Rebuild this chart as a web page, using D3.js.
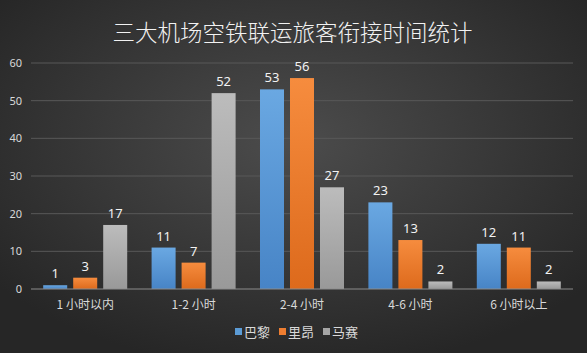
<!DOCTYPE html>
<html>
<head>
<meta charset="utf-8">
<script src="https://cdn.jsdelivr.net/npm/d3@7/dist/d3.min.js"></script>
<style>
  html, body { margin: 0; padding: 0; background: #333; }
  svg { display: block; font-family: "Noto Sans CJK SC", "Noto Sans", sans-serif; }
</style>
</head>
<body>
<svg id="chart"></svg>
<script>
var categories = ["1 小时以内", "1-2 小时", "2-4 小时", "4-6 小时", "6 小时以上"];
var seriesNames = ["巴黎", "里昂", "马赛"];
var paris = [1, 11, 53, 23, 12];
var lyon = [3, 7, 56, 13, 11];
var marseille = [17, 52, 27, 2, 2];
var yTicks = [0, 10, 20, 30, 40, 50, 60];

var seriesValues = [paris, lyon, marseille];
var colors = [
    { top: "#6aa8e2", bottom: "#4784c6", flat: "#5b9bd5" },
    { top: "#f68c3e", bottom: "#dd6a1c", flat: "#ed7d31" },
    { top: "#bcbcbc", bottom: "#999999", flat: "#a5a5a5" }
];

var width = 587, height = 353;
var margin = { top: 63, right: 14, bottom: 64, left: 31 };
var innerW = width - margin.left - margin.right,
    innerH = height - margin.top - margin.bottom;

var svg = d3.select("#chart").attr("width", width).attr("height", height);
var defs = svg.append("defs");

var bg = defs.append("radialGradient").attr("id", "bg")
    .attr("cx", "50%").attr("cy", "40%").attr("r", "65%");
bg.append("stop").attr("offset", "0%").attr("stop-color", "#4c4c4c");
bg.append("stop").attr("offset", "100%").attr("stop-color", "#262626");

colors.forEach(function (c, i) {
    var g = defs.append("linearGradient").attr("id", "bar" + i)
        .attr("x1", 0).attr("y1", 0).attr("x2", 0).attr("y2", 1);
    g.append("stop").attr("offset", "0%").attr("stop-color", c.top);
    g.append("stop").attr("offset", "100%").attr("stop-color", c.bottom);
});

svg.append("rect").attr("width", width).attr("height", height).attr("fill", "url(#bg)");

svg.append("text")
    .attr("x", width / 2 - 1).attr("y", 41)
    .attr("text-anchor", "middle")
    .attr("fill", "#f2f2f2")
    .attr("font-size", 22.5)
    .attr("font-weight", 300)
    .text("三大机场空铁联运旅客衔接时间统计");

var g = svg.append("g").attr("transform", "translate(" + margin.left + "," + margin.top + ")");

var x0 = d3.scaleBand().domain(categories).range([0, innerW]).paddingInner(0.225).paddingOuter(0.1125);
var x1 = d3.scaleBand().domain(d3.range(seriesNames.length)).range([0, x0.bandwidth()]).paddingInner(0.2);
var y = d3.scaleLinear().domain([0, 60]).range([innerH, 0]);

// gridlines
g.append("g")
    .selectAll("line")
    .data(yTicks.slice(1))
    .enter().append("line")
    .attr("x1", 0).attr("x2", innerW)
    .attr("y1", function (d) { return y(d); })
    .attr("y2", function (d) { return y(d); })
    .attr("stroke", "#585858").attr("stroke-width", 1);

// y axis labels
var yAxis = g.append("g").call(d3.axisLeft(y).tickValues(yTicks).tickSize(0).tickPadding(9));
yAxis.select(".domain").remove();
yAxis.selectAll("text").attr("fill", "#d9d9d9").attr("font-size", 11)
    .attr("font-family", "\"Noto Sans\", sans-serif");

// bars
var groups = g.selectAll(".grp")
    .data(categories)
    .enter().append("g")
    .attr("class", "grp")
    .attr("transform", function (d) { return "translate(" + x0(d) + ",0)"; });

groups.selectAll("rect")
    .data(function (d, ci) { return seriesValues.map(function (s, si) { return { si: si, v: s[ci] }; }); })
    .enter().append("rect")
    .attr("x", function (d) { return x1(d.si); })
    .attr("y", function (d) { return y(d.v); })
    .attr("width", x1.bandwidth())
    .attr("height", function (d) { return innerH - y(d.v); })
    .attr("fill", function (d) { return "url(#bar" + d.si + ")"; });

groups.selectAll(".lbl")
    .data(function (d, ci) { return seriesValues.map(function (s, si) { return { si: si, v: s[ci] }; }); })
    .enter().append("text")
    .attr("class", "lbl")
    .attr("x", function (d) { return x1(d.si) + x1.bandwidth() / 2; })
    .attr("y", function (d) { return y(d.v) - 7; })
    .attr("text-anchor", "middle")
    .attr("fill", "#f2f2f2")
    .attr("font-size", 13)
    .attr("font-family", "\"Noto Sans\", sans-serif")
    .text(function (d) { return d.v; });

// baseline
g.append("line")
    .attr("x1", 0).attr("x2", innerW)
    .attr("y1", innerH).attr("y2", innerH)
    .attr("stroke", "#8c8c8c").attr("stroke-width", 1);

// x axis labels
var xAxis = g.append("g").attr("transform", "translate(0," + innerH + ")")
    .call(d3.axisBottom(x0).tickSize(0).tickPadding(11));
xAxis.select(".domain").remove();
xAxis.selectAll("text").attr("fill", "#d9d9d9").attr("font-size", 12)
    .attr("font-family", "\"Noto Sans CJK SC\", sans-serif");

// legend
var legendX = [235, 279, 323];
var legend = svg.append("g").selectAll("g")
    .data(seriesNames)
    .enter().append("g")
    .attr("transform", function (d, i) { return "translate(" + legendX[i] + ",332)"; });
legend.append("rect")
    .attr("x", 0).attr("y", -4).attr("width", 7).attr("height", 7)
    .attr("fill", function (d, i) { return colors[i].flat; });
legend.append("text")
    .attr("x", 9).attr("y", 4.5)
    .attr("fill", "#d9d9d9").attr("font-size", 13)
    .text(function (d) { return d; });
</script>
</body>
</html>
